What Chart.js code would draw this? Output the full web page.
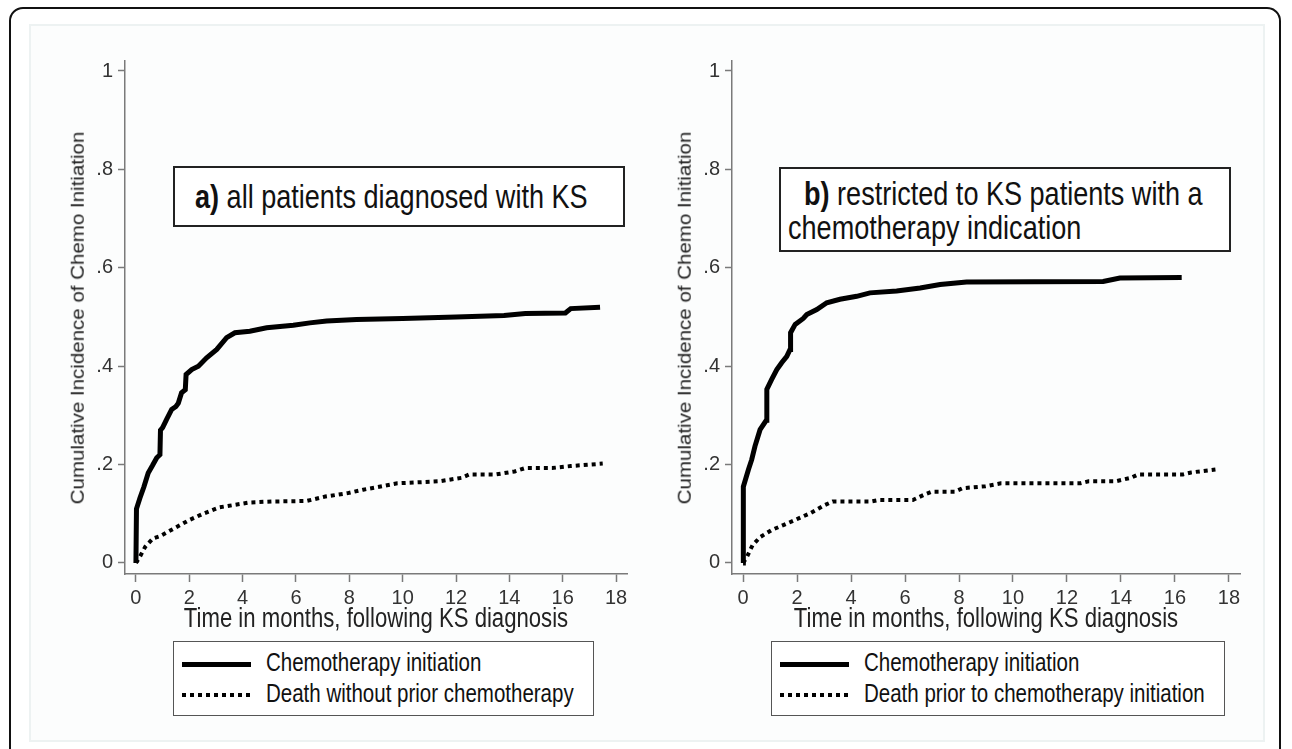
<!DOCTYPE html>
<html>
<head>
<meta charset="utf-8">
<script src="https://cdn.jsdelivr.net/npm/chart.js@4/dist/chart.umd.min.js"></script>
<style>
  body { margin: 0; width: 1292px; height: 749px; overflow: hidden; background: #fff; font-family: "Liberation Sans", Arial, sans-serif; color: #111; }
  #frame { position: absolute; left: 9px; top: 7px; width: 1272px; height: 800px; border: 2px solid #111; border-radius: 14px; box-sizing: border-box; }
  #panel { position: absolute; left: 29px; top: 24px; width: 1236px; height: 718px; border: 2px solid #edf2f2; background: #fcfdfd; box-sizing: border-box; }
  .plot { position: absolute; top: 40px; height: 600px; }
  .narrow { display: inline-block; transform: scaleX(0.82); transform-origin: 0 50%; white-space: nowrap; }
  .title { position: absolute; white-space: nowrap; line-height: 1; color: #222; }
  .note { position: absolute; border: 2px solid #222; background: #fff; box-sizing: border-box; font-size: 33px; }
  .legend { position: absolute; top: 641px; height: 75px; border: 1.5px solid #555; background: #fff; box-sizing: border-box; padding-top: 5px; }
  .legend .row { height: 31px; line-height: 31px; font-size: 25px; white-space: nowrap; }
  .legend .sample { display: inline-block; width: 69px; height: 5px; margin: 0 15px 0 8px; vertical-align: middle; }
  .legend .solid { background: #000; }
  .legend .dot { height: 4px; background: repeating-linear-gradient(to right, #000 0 4px, transparent 4px 8px); }
</style>
</head>
<body>
<div id="frame"></div>
<div id="panel"></div>

<div class="plot" style="left:30px;width:610px"><canvas id="chartA"></canvas></div>
<div class="plot" style="left:637px;width:616px"><canvas id="chartB"></canvas></div>

<div class="note" style="left:173px;top:166px;width:452px;height:61px;line-height:57px;padding-left:20px">
  <span class="narrow"><b>a)</b> all patients diagnosed with KS</span>
</div>
<div class="note" style="left:779px;top:167px;width:452px;height:85px;padding-top:8px;line-height:34px">
  <div style="padding-left:23px"><span class="narrow"><b>b)</b> restricted to KS patients with a</span></div>
  <div style="padding-left:7px"><span class="narrow">chemotherapy indication</span></div>
</div>

<div class="legend" id="legendA" style="left:173px;width:421px"></div>
<div class="legend" id="legendB" style="left:771px;width:454px"></div>

<script>
// axis ticks
const xTicks = [0, 2, 4, 6, 8, 10, 12, 14, 16, 18];
const yTicks = [0, 0.2, 0.4, 0.6, 0.8, 1];
const yTickLabels = ["0", ".2", ".4", ".6", ".8", "1"];
const xTitle = "Time in months, following KS diagnosis";
const yTitle = "Cumulative Incidence of Chemo Initiation";

// a) all patients diagnosed with KS
const leftChemoMonths = [0, 0.02, 0.15, 0.3, 0.46, 0.62, 0.78, 0.9, 0.92, 1.0, 1.15, 1.34, 1.5, 1.59, 1.71, 1.85, 1.88, 2.09, 2.34, 2.65, 3.03, 3.4, 3.71, 4.27, 4.9, 5.9, 6.52, 7.15, 8.27, 10, 12, 13.8, 14.6, 16.1, 16.3, 17.4];
const leftChemoCif = [0, 0.11, 0.132, 0.155, 0.183, 0.198, 0.214, 0.22, 0.27, 0.275, 0.292, 0.312, 0.318, 0.325, 0.346, 0.352, 0.383, 0.393, 0.4, 0.417, 0.434, 0.458, 0.468, 0.471, 0.478, 0.483, 0.488, 0.492, 0.495, 0.497, 0.5, 0.503, 0.507, 0.508, 0.517, 0.52];
const leftDeathMonths = [0, 0.14, 0.35, 0.64, 0.92, 1.42, 1.99, 2.56, 3.12, 3.69, 4.26, 5.11, 6.39, 7.1, 7.95, 8.52, 9.23, 9.8, 11.36, 12.2, 12.5, 13.5, 14.2, 14.6, 15.6, 16.3, 17.5];
const leftDeathCif = [0, 0.012, 0.033, 0.05, 0.055, 0.07, 0.087, 0.101, 0.113, 0.118, 0.123, 0.125, 0.126, 0.135, 0.142, 0.149, 0.156, 0.162, 0.166, 0.173, 0.18, 0.18, 0.186, 0.193, 0.193, 0.197, 0.202];

// b) restricted to KS patients with a chemotherapy indication
const rightChemoMonths = [0, 0.01, 0.2, 0.32, 0.44, 0.63, 0.86, 0.88, 1.06, 1.25, 1.43, 1.62, 1.74, 1.76, 1.93, 2.23, 2.36, 2.73, 3.1, 3.59, 4.21, 4.7, 5.69, 6.56, 7.3, 8.28, 13.34, 13.96, 16.25];
const rightChemoCif = [0, 0.155, 0.19, 0.21, 0.237, 0.271, 0.29, 0.353, 0.373, 0.393, 0.407, 0.42, 0.434, 0.468, 0.485, 0.497, 0.505, 0.515, 0.529, 0.536, 0.542, 0.549, 0.553, 0.559, 0.566, 0.571, 0.572, 0.579, 0.58];
const rightDeathMonths = [0, 0.14, 0.35, 0.64, 1.06, 1.49, 1.91, 2.48, 3.04, 3.32, 4.74, 5.02, 6.29, 6.72, 7.0, 7.85, 8.13, 8.98, 9.55, 12.5, 12.8, 13.8, 14.36, 14.64, 16.3, 16.6, 17.5];
const rightDeathCif = [0, 0.012, 0.036, 0.053, 0.067, 0.077, 0.087, 0.101, 0.118, 0.125, 0.125, 0.128, 0.128, 0.139, 0.145, 0.145, 0.152, 0.156, 0.162, 0.162, 0.166, 0.166, 0.173, 0.18, 0.18, 0.184, 0.19];

const leftLabels = ["Chemotherapy initiation", "Death without prior chemotherapy"];
const rightLabels = ["Chemotherapy initiation", "Death prior to chemotherapy initiation"];

const axisColor = "#7a7a7a";
const font = "'Liberation Sans', Arial, sans-serif";

function toPoints(xs, ys) {
    return xs.map((x, i) => ({ x: x, y: ys[i] }));
}

// axis titles are set as narrow text next to the chart area
function addTitles(chart, canvasLeft, canvasTop) {
    const a = chart.chartArea;
    const xt = document.createElement('div');
    xt.className = 'title';
    xt.style.cssText = `left:${canvasLeft + (a.left + a.right) / 2}px;top:618px;font-size:27px;transform:translate(-50%,-50%) scaleX(0.82)`;
    xt.textContent = xTitle;
    document.body.appendChild(xt);

    const yt = document.createElement('div');
    yt.className = 'title';
    yt.style.cssText = `left:${canvasLeft + a.left - 47}px;top:${canvasTop + (a.top + a.bottom) / 2}px;font-size:20.5px;transform:translate(-50%,-50%) rotate(-90deg) scaleY(0.92)`;
    yt.textContent = yTitle;
    document.body.appendChild(yt);
}

function makeChart(id, legendId, canvasLeft, labels, chemoX, chemoY, deathX, deathY) {
    const chart = new Chart(document.getElementById(id), {
        type: 'line',
        data: {
            datasets: [{
                label: labels[0],
                data: toPoints(chemoX, chemoY),
                borderColor: '#000',
                borderWidth: 5,
                pointRadius: 0,
                tension: 0
            }, {
                label: labels[1],
                data: toPoints(deathX, deathY),
                borderColor: '#000',
                borderWidth: 4,
                borderDash: [4, 4],
                borderCapStyle: 'butt',
                pointRadius: 0,
                tension: 0
            }]
        },
        options: {
            responsive: true,
            maintainAspectRatio: false,
            animation: false,
            layout: { padding: { left: 0, right: 13, top: 21, bottom: 0 } },
            plugins: { legend: { display: false }, tooltip: { enabled: false } },
            scales: {
                x: {
                    type: 'linear',
                    min: -0.41,
                    max: 18.41,
                    afterBuildTicks: s => { s.ticks = xTicks.map(v => ({ value: v })); },
                    afterFit: s => { s.height = 66; },
                    border: { color: axisColor, width: 1.5 },
                    grid: { drawOnChartArea: false, tickLength: 8, tickColor: axisColor, tickWidth: 1.5 },
                    ticks: { autoSkip: false, maxRotation: 0, padding: 4, color: '#333', font: { family: font, size: 20 } }
                },
                y: {
                    type: 'linear',
                    min: -0.0224,
                    max: 1.0203,
                    afterBuildTicks: s => { s.ticks = yTicks.map(v => ({ value: v })); },
                    afterFit: s => { s.width = 95; },
                    border: { color: axisColor, width: 1.5 },
                    grid: { drawOnChartArea: false, tickLength: 7, tickColor: axisColor, tickWidth: 1.5 },
                    ticks: {
                        autoSkip: false, padding: 5, color: '#333', font: { family: font, size: 20 },
                        callback: (v, i) => yTickLabels[i]
                    }
                }
            }
        }
    });

    addTitles(chart, canvasLeft, 40);

    // legend box under the plot
    const box = document.getElementById(legendId);
    chart.data.datasets.forEach((ds, i) => {
        const row = document.createElement('div');
        row.className = 'row';
        row.innerHTML = `<span class="sample ${i === 0 ? 'solid' : 'dot'}"></span><span class="narrow">${ds.label}</span>`;
        box.appendChild(row);
    });
    return chart;
}

makeChart('chartA', 'legendA', 30, leftLabels, leftChemoMonths, leftChemoCif, leftDeathMonths, leftDeathCif);
makeChart('chartB', 'legendB', 637, rightLabels, rightChemoMonths, rightChemoCif, rightDeathMonths, rightDeathCif);
</script>
</body>
</html>
